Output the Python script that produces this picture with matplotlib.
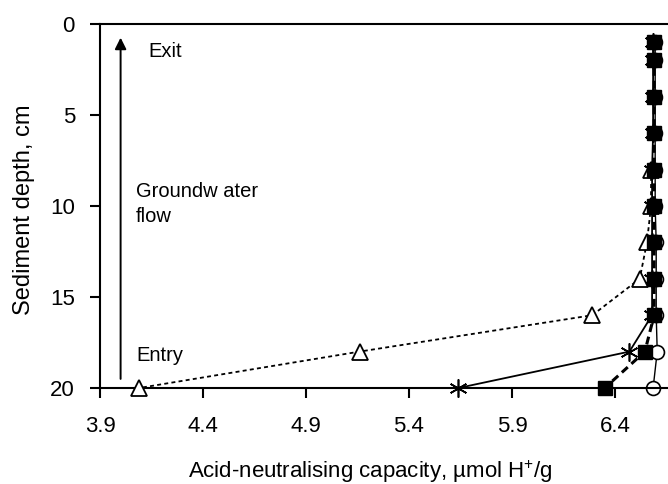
import numpy as np
import matplotlib.pyplot as plt

plt.rcParams['font.family'] = ['Liberation Sans', 'DejaVu Sans']
plt.rcParams['mathtext.fontset'] = 'custom'
plt.rcParams['mathtext.rm'] = 'Liberation Sans'

# data (depth in cm, ANC in umol H+/g)
depth_tri = [8, 10, 12, 14, 16, 18, 20]
anc_tri = [6.575, 6.575, 6.555, 6.52, 6.29, 5.16, 4.09]

depth_sq = [1, 2, 4, 6, 8, 10, 12, 14, 16, 18, 20]
anc_sq = [6.59, 6.59, 6.59, 6.59, 6.59, 6.59, 6.59, 6.59, 6.59, 6.545, 6.35]

depth_star = [1, 2, 4, 6, 8, 10, 12, 14, 16, 18, 20]
anc_star = [6.585, 6.585, 6.585, 6.585, 6.58, 6.58, 6.58, 6.58, 6.58, 6.47, 5.64]

depth_circ = [1, 2, 4, 6, 8, 10, 12, 14, 16, 18, 20]
anc_circ = [6.595, 6.595, 6.595, 6.595, 6.595, 6.595, 6.6, 6.6, 6.6, 6.605, 6.585]

xticks = [3.9, 4.4, 4.9, 5.4, 5.9, 6.4]
yticks = [0, 5, 10, 15, 20]

fig = plt.figure(figsize=(6.68, 4.84), dpi=100)
ax = fig.add_axes([100 / 668, 1 - 388 / 484, 568 / 668, 364 / 484])

# series
ax.plot(anc_circ, depth_circ, color='black', lw=1.0, marker='o', ms=10,
        mfc='white', mec='black', mew=1.2, clip_on=False, zorder=2)
ax.plot(anc_star, depth_star, color='black', lw=1.3, marker=(6, 2, 0), ms=13,
        mew=1.2, clip_on=False, zorder=3)
ax.plot(anc_tri, depth_tri, color='black', lw=1.3, dashes=(2.2, 1.8),
        marker='^', ms=11, mfc='white', mec='black', mew=1.3,
        clip_on=False, zorder=4)
ax.plot(anc_sq, depth_sq, color='black', lw=2.2, dashes=(2.6, 1.6),
        marker='s', ms=10, mfc='black', mec='black', clip_on=False, zorder=5)

# flow arrow and labels
ax.annotate('', xy=(4.0, 0.75), xytext=(4.0, 19.5),
            arrowprops=dict(arrowstyle='-|>', color='black', lw=1.4,
                            mutation_scale=17, shrinkA=0, shrinkB=0))
ax.text(4.133, 1.5, 'Exit', fontsize=14.5, va='center', ha='left')
ax.text(4.075, 9.9, 'Groundw ater\nflow', fontsize=14.5, va='center', ha='left',
        linespacing=1.4)
ax.text(4.075, 18.2, 'Entry', fontsize=14.5, va='center', ha='left')

ax.set_xlim(3.9, 3.9 + 568 / 206)
ax.set_ylim(20, 0)
ax.set_xticks(xticks)
ax.set_xticklabels([f'{t:.1f}' for t in xticks])
ax.set_yticks(yticks)

ax.spines['right'].set_visible(False)
for s in ['left', 'top', 'bottom']:
    ax.spines[s].set_linewidth(1.5)
ax.tick_params(axis='x', direction='out', length=7, width=1.5, pad=13,
               labelsize=16)
ax.tick_params(axis='y', direction='out', length=7, width=1.5, pad=11,
               labelsize=16)

fig.text(370 / 668, 1 - 472 / 484, 'Acid-neutralising capacity, µmol H$^{+}$/g',
         fontsize=16, ha='center', va='center')
fig.text(24 / 668, 1 - 210 / 484, 'Sediment depth, cm', fontsize=17,
         rotation=90, ha='center', va='center')

fig.savefig('out.png', dpi=100)
